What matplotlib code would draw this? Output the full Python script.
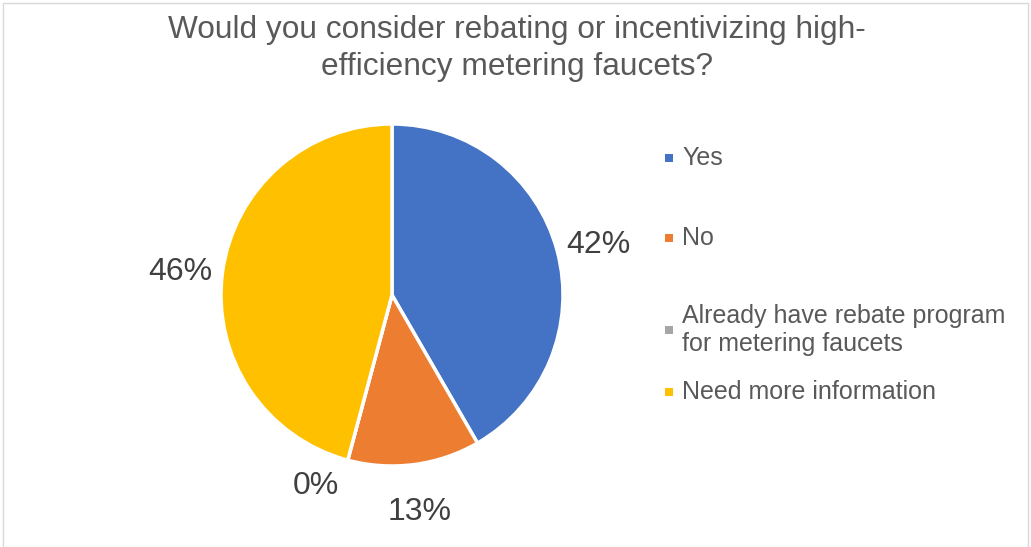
import numpy as np
import matplotlib.pyplot as plt
from matplotlib.patches import Rectangle

# survey responses
categories = ['Yes', 'No', 'Already have rebate program\nfor metering faucets', 'Need more information']
counts = [10, 3, 0, 11]
colors = ['#4472C4', '#ED7D31', '#A5A5A5', '#FFC000']

plt.rcParams['font.family'] = ['Liberation Sans', 'DejaVu Sans']

W, H = 1031, 547
fig = plt.figure(figsize=(W / 100, H / 100), dpi=100)
fig.patches.append(Rectangle((3 / W, 0), 1 - 6 / W, 1 - 3 / H, transform=fig.transFigure,
                             fill=False, edgecolor='#D9D9D9', linewidth=1))

fig.text(517 / W, 1 - 30 / H, 'Would you consider rebating or incentivizing high-',
         ha='center', va='center', fontsize=22.8, color='#595959')
fig.text(517 / W, 1 - 67 / H, 'efficiency metering faucets?',
         ha='center', va='center', fontsize=22.8, color='#595959')

# pie axes: centre (392, 295), radius 171 px
cx, cy, r = 392, 295, 171
ax = fig.add_axes([(cx - r) / W, (H - cy - r) / H, 2 * r / W, 2 * r / H])
wedges, _ = ax.pie(counts, colors=colors, startangle=90, counterclock=False,
                   wedgeprops=dict(edgecolor='white', linewidth=2.5))
ax.set_xlim(-1, 1)
ax.set_ylim(-1, 1)
ax.set_aspect('auto')

total = sum(counts)
for w, c in zip(wedges, counts):
    mid = np.deg2rad((w.theta1 + w.theta2) / 2)
    rr = 1.25
    x, y = rr * np.cos(mid), rr * np.sin(mid) - 0.03
    if c == 0:
        x, y = x - 0.12, y + 0.12
    pct = int(100 * c / total + 0.5)
    ax.text(x, y, f'{pct}%', ha='center', va='center',
            fontsize=23, color='#404040', clip_on=False)

# legend
leg_y = [158, 238, 330, 392]
for lab, col, yy in zip(categories, colors, leg_y):
    fig.patches.append(Rectangle((665 / W, 1 - (yy + 4) / H), 8 / W, 8 / H,
                                 transform=fig.transFigure, facecolor=col, edgecolor='none'))
    fig.text(682 / W, 1 - yy / H, lab, ha='left', va='center', fontsize=18,
             color='#595959', linespacing=1.25)

fig.savefig('out.png', dpi=100)
